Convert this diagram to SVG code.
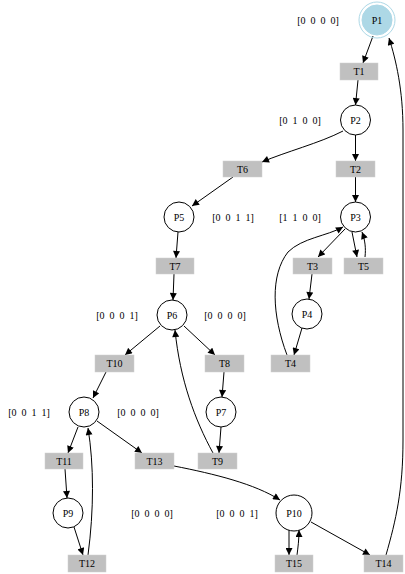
<svg xmlns="http://www.w3.org/2000/svg" width="405" height="574" viewBox="0 0 405 574">
<style>
text{font-family:"Liberation Serif","Times New Roman",serif;font-size:10px;fill:#000;text-anchor:middle;white-space:pre}
.pl{fill:#fff;stroke:#000;stroke-width:1}
.tr{fill:#c0c0c0;stroke:#d0d0d0;stroke-width:0.5}
.e{fill:none;stroke:#000;stroke-width:1;marker-end:url(#a)}
</style>
<defs>
<marker id="a" viewBox="0 0 10 10" refX="10" refY="5" markerWidth="8" markerHeight="7" markerUnits="userSpaceOnUse" orient="auto">
<path d="M0,0 L10,5 L0,10 z" fill="#000"/>
</marker>
</defs>
<rect width="405" height="574" fill="#fff"/>
<g id="connectors">
<path class="e" d="M373,36 L363,63"/>
<path class="e" d="M386,555 C396,520 403,490 403,440 L403,130 C403,90 396,60 389,38"/>
<path class="e" d="M358,80 L355.5,105"/>
<path class="e" d="M343,131 C320,143 285,152 262,162"/>
<path class="e" d="M355.5,135 L355.5,161"/>
<path class="e" d="M355.5,177 L355.5,202"/>
<path class="e" d="M233,177 L192,206"/>
<path class="e" d="M178,232 L176,258"/>
<path class="e" d="M174,274 L173,300"/>
<path class="e" d="M345,229 L318,257"/>
<path class="e" d="M352,232 L357,257"/>
<path class="e" d="M365,257 C366,248 365,240 362,232"/>
<path class="e" d="M287,355 C272,315 270,275 288,252 C302,238 327,236 343,227"/>
<path class="e" d="M312,274 L309,299"/>
<path class="e" d="M302,328 L294,355"/>
<path class="e" d="M160,326 L125,355"/>
<path class="e" d="M184,326 L215,355"/>
<path class="e" d="M213,453 C195,420 180,380 175,330"/>
<path class="e" d="M224,372 L222,397"/>
<path class="e" d="M221,427 L219,453"/>
<path class="e" d="M106,372 L93,398"/>
<path class="e" d="M78,427 L68,453"/>
<path class="e" d="M97,421 L142,453"/>
<path class="e" d="M88,555 C94,510 94,465 88,428"/>
<path class="e" d="M65,469 L67,498"/>
<path class="e" d="M74,527 L83,555"/>
<path class="e" d="M174,466 C215,474 255,484 280,500"/>
<path class="e" d="M289,530 L289,555"/>
<path class="e" d="M297,555 C298,547 299,540 299,530"/>
<path class="e" d="M311,522 L370,555"/>
</g>
<g id="P1"><circle cx="377" cy="20" r="18" fill="none" stroke="#add8e6" stroke-width="1"/><circle cx="377" cy="20" r="15" fill="#add8e6" stroke="#add8e6"/><text x="377" y="23.5">P1</text></g>
<g id="P2"><circle class="pl" cx="355.5" cy="120" r="15"/><text x="355.5" y="123.5">P2</text></g>
<g id="P3"><circle class="pl" cx="355.5" cy="217" r="15"/><text x="355.5" y="220.5">P3</text></g>
<g id="P4"><circle class="pl" cx="307" cy="314" r="15"/><text x="307" y="317.5">P4</text></g>
<g id="P5"><circle class="pl" cx="179" cy="217" r="15"/><text x="179" y="220.5">P5</text></g>
<g id="P6"><circle class="pl" cx="172" cy="315" r="15"/><text x="172" y="318.5">P6</text></g>
<g id="P7"><circle class="pl" cx="221" cy="412" r="15"/><text x="221" y="415.5">P7</text></g>
<g id="P8"><circle class="pl" cx="84" cy="412" r="15"/><text x="84" y="415.5">P8</text></g>
<g id="P9"><circle class="pl" cx="68" cy="513" r="15"/><text x="68" y="516.5">P9</text></g>
<g id="P10"><circle class="pl" cx="294" cy="513" r="18"/><text x="294" y="516.5">P10</text></g>
<g id="T1"><rect class="tr" x="340" y="63" width="38" height="17"/><text x="359" y="75">T1</text></g>
<g id="T2"><rect class="tr" x="336" y="161" width="39" height="16"/><text x="355.5" y="172.5">T2</text></g>
<g id="T3"><rect class="tr" x="293" y="258" width="39" height="16"/><text x="312.5" y="269.5">T3</text></g>
<g id="T4"><rect class="tr" x="271" y="355" width="39" height="17"/><text x="290.5" y="367">T4</text></g>
<g id="T5"><rect class="tr" x="344" y="258" width="39" height="16"/><text x="363.5" y="269.5">T5</text></g>
<g id="T6"><rect class="tr" x="223" y="161" width="39" height="16"/><text x="242.5" y="172.5">T6</text></g>
<g id="T7"><rect class="tr" x="156" y="258" width="38" height="16"/><text x="175" y="269.5">T7</text></g>
<g id="T8"><rect class="tr" x="205" y="355" width="39" height="17"/><text x="224.5" y="367">T8</text></g>
<g id="T9"><rect class="tr" x="198" y="453" width="39" height="16"/><text x="217.5" y="464.5">T9</text></g>
<g id="T10"><rect class="tr" x="95" y="355" width="39" height="17"/><text x="114.5" y="367">T10</text></g>
<g id="T11"><rect class="tr" x="45" y="453" width="38" height="16"/><text x="64" y="464.5">T11</text></g>
<g id="T12"><rect class="tr" x="68" y="555" width="38" height="17"/><text x="87" y="567">T12</text></g>
<g id="T13"><rect class="tr" x="135" y="453" width="39" height="16"/><text x="154.5" y="464.5">T13</text></g>
<g id="T14"><rect class="tr" x="364" y="555" width="39" height="17"/><text x="383.5" y="567">T14</text></g>
<g id="T15"><rect class="tr" x="275" y="555" width="38" height="17"/><text x="294" y="567">T15</text></g>
<g id="labels">
<text x="318" y="23.5">[0  0  0  0]</text>
<text x="300" y="123.5">[0  1  0  0]</text>
<text x="233" y="220.5">[0  0  1  1]</text>
<text x="300" y="220.5">[1  1  0  0]</text>
<text x="117" y="318.5">[0  0  0  1]</text>
<text x="225" y="318.5">[0  0  0  0]</text>
<text x="29" y="415.5">[0  0  1  1]</text>
<text x="138" y="415.5">[0  0  0  0]</text>
<text x="152" y="516.5">[0  0  0  0]</text>
<text x="237" y="516.5">[0  0  0  1]</text>
</g>
</svg>
